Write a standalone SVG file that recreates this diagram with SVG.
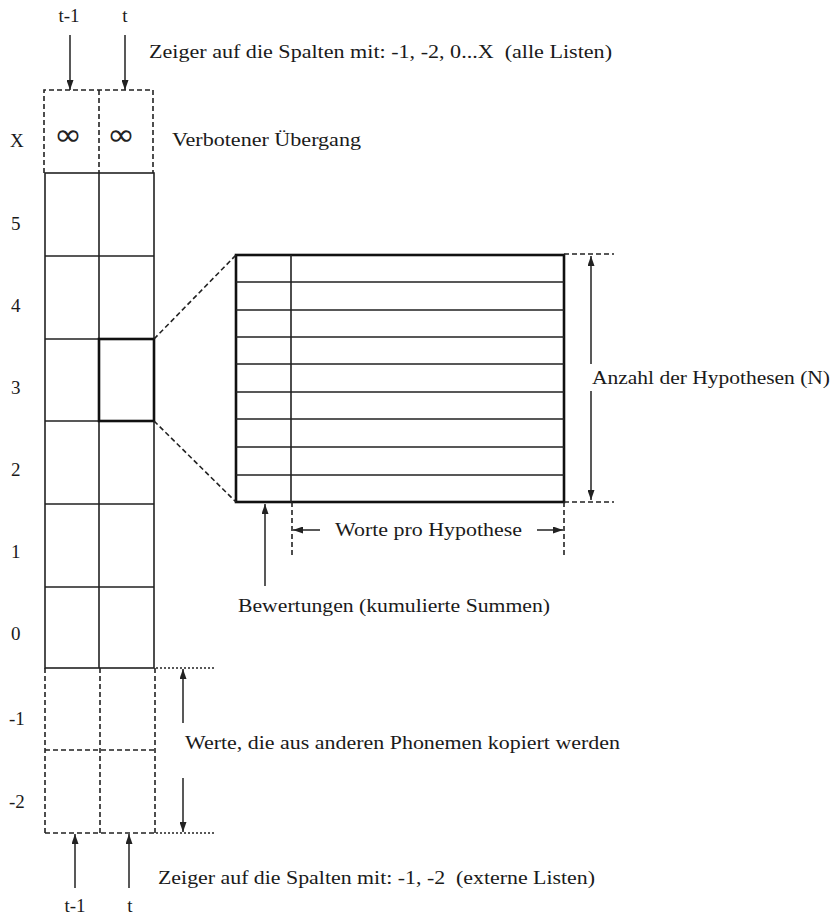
<svg xmlns="http://www.w3.org/2000/svg" width="834" height="916" viewBox="0 0 834 916">
<style>
text{font-family:"Liberation Serif","Times New Roman",serif;font-size:19px;fill:#1a1a1a;white-space:pre}
.inf{font-family:"DejaVu Sans",sans-serif;font-size:30px;fill:#222}
.solid{stroke:#222;stroke-width:1.6;fill:none}
.thick{stroke:#111;stroke-width:2.6;fill:none}
.dash{stroke:#222;stroke-width:1.6;fill:none;stroke-dasharray:5 3}
.dot{stroke:#222;stroke-width:1.3;fill:none;stroke-dasharray:2 2}
.arr{stroke:#222;stroke-width:1.5;fill:none;marker-end:url(#ah)}
</style>
<defs>
<marker id="ah" markerUnits="userSpaceOnUse" markerWidth="10" markerHeight="7" refX="10" refY="3.5" orient="auto">
<path d="M0,0 L10,3.5 L0,7 Z" fill="#222"/>
</marker>
</defs>
<rect width="834" height="916" fill="#fff"/>

<g id="row-labels">
<text x="10" y="147">X</text>
<text x="11" y="230">5</text>
<text x="11" y="312">4</text>
<text x="11" y="394">3</text>
<text x="11" y="476">2</text>
<text x="11" y="558">1</text>
<text x="11" y="640">0</text>
<text x="9" y="725">-1</text>
<text x="9" y="808">-2</text>
</g>

<g id="forbidden-row">
<path class="dash" d="M44,173 V90 H153 V173 M99,90 V173"/>
<text class="inf" x="68" y="145" text-anchor="middle" textLength="28" lengthAdjust="spacingAndGlyphs">∞</text>
<text class="inf" x="121" y="145" text-anchor="middle" textLength="28" lengthAdjust="spacingAndGlyphs">∞</text>
</g>

<g id="grid">
<rect class="solid" x="45" y="173" width="109" height="495"/>
<path class="solid" d="M99,173 V668 M45,256 H154 M45,339 H154 M45,421 H154 M45,504 H154 M45,587 H154"/>
<rect class="thick" x="99" y="339" width="55" height="82"/>
</g>

<g id="external-rows">
<path class="dash" d="M45,668 V833 M100,668 V833 M155,668 V833 M45,750 H155 M45,833 H155"/>
</g>

<g id="hypothesis-table">
<rect class="thick" x="236" y="255" width="328" height="247"/>
<path class="solid" d="M291,255 V502 M236,282 H564 M236,310 H564 M236,337 H564 M236,364 H564 M236,392 H564 M236,419 H564 M236,447 H564 M236,475 H564"/>
</g>

<g id="connectors">
<line class="arr" x1="70" y1="35" x2="70" y2="90"/>
<line class="arr" x1="125" y1="35" x2="125" y2="90"/>
<line class="dash" x1="154" y1="339" x2="236" y2="255"/>
<line class="dash" x1="154" y1="421" x2="236" y2="502"/>
<line class="dash" x1="564" y1="254" x2="614" y2="254"/>
<line class="dash" x1="564" y1="502" x2="614" y2="502"/>
<line class="arr" x1="591" y1="364" x2="591" y2="256"/>
<line class="arr" x1="591" y1="391" x2="591" y2="500"/>
<line class="dash" x1="292" y1="502" x2="292" y2="558"/>
<line class="dash" x1="564" y1="502" x2="564" y2="558"/>
<line class="arr" x1="320" y1="530" x2="293" y2="530"/>
<line class="arr" x1="537" y1="530" x2="563" y2="530"/>
<line class="arr" x1="265" y1="586" x2="265" y2="504"/>
<line class="dot" x1="156" y1="668" x2="214" y2="668"/>
<line class="dot" x1="156" y1="833" x2="214" y2="833"/>
<line class="arr" x1="183" y1="723" x2="183" y2="669"/>
<line class="arr" x1="183" y1="778" x2="183" y2="832"/>
<line class="arr" x1="75" y1="888" x2="75" y2="834"/>
<line class="arr" x1="129" y1="888" x2="129" y2="834"/>
</g>

<g id="labels">
<text x="69" y="22" text-anchor="middle">t-1</text>
<text x="125" y="22" text-anchor="middle">t</text>
<text x="149" y="58" textLength="463" lengthAdjust="spacingAndGlyphs">Zeiger auf die Spalten mit: -1, -2, 0...X  (alle Listen)</text>
<text x="172" y="146" textLength="189" lengthAdjust="spacingAndGlyphs">Verbotener Übergang</text>
<text x="592" y="384" textLength="238" lengthAdjust="spacingAndGlyphs">Anzahl der Hypothesen (N)</text>
<text x="335" y="536" textLength="187" lengthAdjust="spacingAndGlyphs">Worte pro Hypothese</text>
<text x="238" y="612" textLength="312" lengthAdjust="spacingAndGlyphs">Bewertungen (kumulierte Summen)</text>
<text x="185" y="749" textLength="435" lengthAdjust="spacingAndGlyphs">Werte, die aus anderen Phonemen kopiert werden</text>
<text x="158" y="884" textLength="437" lengthAdjust="spacingAndGlyphs">Zeiger auf die Spalten mit: -1, -2  (externe Listen)</text>
<text x="75" y="912" text-anchor="middle">t-1</text>
<text x="130" y="912" text-anchor="middle">t</text>
</g>
</svg>
